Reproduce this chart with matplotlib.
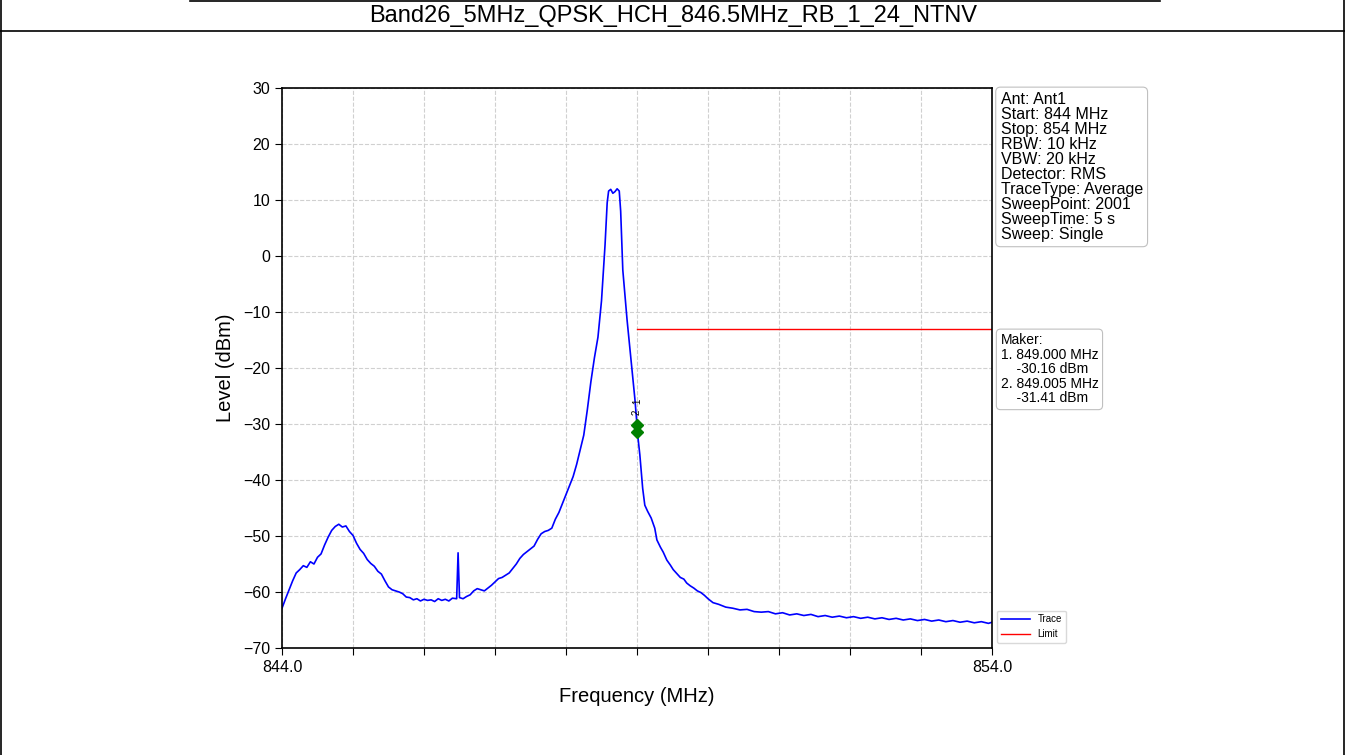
import matplotlib
matplotlib.use("Agg")
import matplotlib.pyplot as plt
from matplotlib.lines import Line2D

plt.rcParams['font.family'] = ['Liberation Sans', 'DejaVu Sans']

# --- data ---
title = "Band26_5MHz_QPSK_HCH_846.5MHz_RB_1_24_NTNV"

freq = [844.00, 844.05, 844.10, 844.15, 844.20, 844.25, 844.30, 844.35, 844.40, 844.45,
        844.50, 844.55, 844.60, 844.65, 844.70, 844.75, 844.80, 844.85, 844.90, 844.95,
        845.00, 845.05, 845.10, 845.15, 845.20, 845.25, 845.30, 845.35, 845.40, 845.45,
        845.50, 845.55, 845.60, 845.65, 845.70, 845.75, 845.80, 845.85, 845.90, 845.95,
        846.00, 846.05, 846.10, 846.15, 846.20, 846.25, 846.30, 846.35, 846.40, 846.46,
        846.48, 846.50, 846.55, 846.60, 846.65, 846.70, 846.75, 846.80, 846.85, 846.90,
        846.95, 847.00, 847.05, 847.10, 847.15, 847.20, 847.25, 847.30, 847.35, 847.40,
        847.45, 847.50, 847.55, 847.60, 847.65, 847.70, 847.75, 847.80, 847.85, 847.90,
        847.95, 848.00, 848.05, 848.10, 848.15, 848.20, 848.25, 848.30, 848.35, 848.40,
        848.45, 848.50, 848.55, 848.58, 848.60, 848.63, 848.66, 848.69, 848.72, 848.75,
        848.77, 848.80, 848.86, 848.93, 848.97, 849.00, 849.005, 849.04, 849.08, 849.11,
        849.15, 849.20, 849.25, 849.28, 849.33, 849.37, 849.42, 849.47, 849.51, 849.56,
        849.61, 849.66, 849.70, 849.75, 849.80, 849.85, 849.90, 849.95, 850.00, 850.07,
        850.15, 850.25, 850.35, 850.45, 850.55, 850.65, 850.75, 850.85, 850.95, 851.05,
        851.15, 851.25, 851.35, 851.45, 851.55, 851.65, 851.75, 851.85, 851.95, 852.05,
        852.15, 852.25, 852.35, 852.45, 852.55, 852.65, 852.75, 852.85, 852.95, 853.05,
        853.15, 853.25, 853.35, 853.45, 853.55, 853.65, 853.75, 853.85, 853.95, 854.00]
level = [-62.9, -61.2, -59.6, -58.0, -56.6, -56.0, -55.3, -55.6, -54.6, -55.0,
         -53.8, -53.2, -51.6, -50.2, -49.0, -48.3, -47.9, -48.4, -48.2, -49.2,
         -49.9, -51.3, -52.4, -53.1, -54.2, -54.9, -55.4, -56.3, -56.8, -58.0,
         -59.1, -59.6, -59.8, -60.0, -60.3, -60.9, -61.0, -61.4, -61.2, -61.6,
         -61.3, -61.5, -61.4, -61.7, -61.2, -61.5, -61.3, -61.6, -61.1, -61.2,
         -53.0, -61.0, -61.2, -60.8, -60.5, -59.8, -59.4, -59.6, -59.8, -59.3,
         -58.8, -58.2, -57.6, -57.4, -57.0, -56.6, -55.8, -55.0, -54.0, -53.3,
         -52.8, -52.3, -51.8, -50.6, -49.6, -49.2, -49.0, -48.6, -47.0, -45.8,
         -44.2, -42.6, -41.0, -39.4, -37.2, -34.6, -32.0, -27.5, -22.5, -18.2,
         -14.5, -8.0, 2.0, 9.5, 11.6, 11.9, 11.2, 11.5, 12.0, 11.6,
         8.0, -2.5, -11.4, -20.4, -25.5, -30.16, -31.41, -35.5, -41.5, -44.5,
         -45.6, -46.8, -48.6, -50.7, -52.0, -52.9, -54.3, -55.2, -56.0, -56.7,
         -57.4, -57.7, -58.4, -58.9, -59.3, -59.8, -60.1, -60.6, -61.2, -61.9,
         -62.2, -62.7, -62.9, -63.2, -63.1, -63.5, -63.6, -63.5, -63.9, -63.7,
         -64.1, -63.9, -64.2, -64.0, -64.4, -64.2, -64.5, -64.3, -64.6, -64.4,
         -64.7, -64.5, -64.8, -64.6, -64.9, -64.7, -65.0, -64.8, -65.1, -64.9,
         -65.2, -65.0, -65.3, -65.1, -65.4, -65.2, -65.5, -65.3, -65.6, -65.4]

limit_freq = [849.0, 854.0]
limit_level = [-13.0, -13.0]

marker_freq = [849.000, 849.005]
marker_level = [-30.16, -31.41]

info_lines = ["Ant: Ant1", "Start: 844 MHz", "Stop: 854 MHz", "RBW: 10 kHz", "VBW: 20 kHz",
              "Detector: RMS", "TraceType: Average", "SweepPoint: 2001",
              "SweepTime: 5 s", "Sweep: Single"]
maker_lines = ["Maker:", "1. 849.000 MHz", "    -30.16 dBm", "2. 849.005 MHz", "    -31.41 dBm"]

x_ticks = list(range(844, 855))
y_ticks = list(range(-70, 31, 10))

W, H = 1345, 755
fig = plt.figure(figsize=(W / 100, H / 100), dpi=100)

# table frame around the chart
frame = dict(color='black', lw=1.2, transform=fig.transFigure)
fig.add_artist(Line2D([1 / W, 1 / W], [0, 1], **frame))
fig.add_artist(Line2D([1 - 1.5 / W, 1 - 1.5 / W], [0, 1], **frame))
fig.add_artist(Line2D([190 / W, 1160 / W], [1 - 1 / H, 1 - 1 / H], **frame))
fig.add_artist(Line2D([0, 1], [1 - 31 / H, 1 - 31 / H], **frame))
fig.text(673 / W, 1 - 16 / H, title, ha='center', va='center', fontsize=17)

ax = fig.add_axes([282 / W, 1 - 648 / H, (992 - 282) / W, (648 - 88) / H])
ax.plot(freq, level, color='blue', lw=1.2, label='Trace')
ax.plot(limit_freq, limit_level, color='red', lw=1.0, label='Limit')
ax.plot(marker_freq, marker_level, linestyle='none', marker='D', color='green', markersize=6)
ax.text(849.0, -26.0, "1", rotation=90, fontsize=7, ha='center', va='center')
ax.text(849.0, -28.0, "2", rotation=90, fontsize=7, ha='center', va='center')

ax.set_xlim(844, 854)
ax.set_ylim(-70, 30)
ax.set_xticks(x_ticks)
ax.set_xticklabels(["844.0"] + [""] * 9 + ["854.0"])
ax.set_yticks(y_ticks)
ax.grid(True, color='#d0d0d0', linestyle='--', lw=0.8)
ax.tick_params(labelsize=11.5, direction='out', length=5)
for s in ax.spines.values():
    s.set_linewidth(1.2)
ax.set_xlabel("Frequency (MHz)", fontsize=14.5, labelpad=9)
ax.set_ylabel("Level (dBm)", fontsize=14.5, labelpad=6)

box = dict(boxstyle='round,pad=0.3', facecolor='white', edgecolor='#c0c0c0', lw=0.8)
ax.text(1.012, 0.993, "\n".join(info_lines), transform=ax.transAxes, fontsize=11.5,
        va='top', ha='left', linespacing=1.0, bbox=box)
ax.text(1.012, 0.562, "\n".join(maker_lines), transform=ax.transAxes, fontsize=10,
        va='top', ha='left', linespacing=1.05, bbox=box)

ax.legend(loc='lower left', bbox_to_anchor=(1.0, 0.0), fontsize=7, frameon=True,
          edgecolor='#d0d0d0', handlelength=3)

fig.savefig("out.png", dpi=100)
